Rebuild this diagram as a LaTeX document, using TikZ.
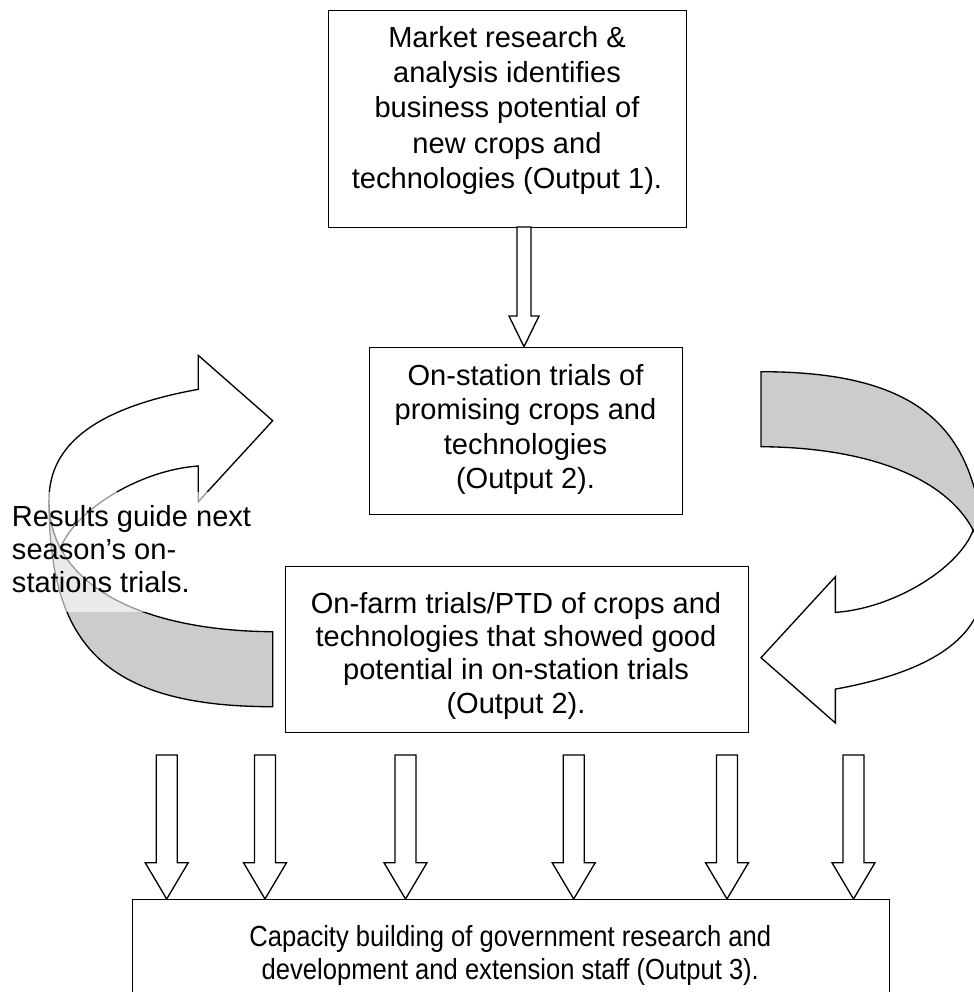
\documentclass[tikz,border=0pt]{standalone}
\usepackage{fontspec}
\setmainfont{Liberation Sans}
\newfontfamily\condfont[FakeStretch=0.88]{Liberation Sans}
\definecolor{shade}{RGB}{204,204,204}
\newcommand\DownArr[6]{% x, ytop, ytip, shaft half, head half, head length
  \draw[blk] (#1-#4,#2) -- (#1+#4,#2) -- (#1+#4,#3-#6) -- (#1+#5,#3-#6) -- (#1,#3)
     -- (#1-#5,#3-#6) -- (#1-#4,#3-#6) -- cycle;}
\begin{document}
\begin{tikzpicture}[x=0.75pt,y=-0.75pt,
  box/.style={draw, line width=1.1pt, fill=white, inner sep=0pt, anchor=north west},
  lbl/.style={inner sep=0pt, anchor=base},
  blk/.style={draw, line width=1pt, fill=white, line join=miter},
  curv/.style={draw, line width=1pt, line join=miter}]
\useasboundingbox (0,0) rectangle (974,992);
\clip (0,0) rectangle (974,992);

% boxes
\node[box, minimum width=268.5pt, minimum height=162.75pt] (b1) at (328,10) {};
\node[box, minimum width=234.75pt, minimum height=125.1pt] (b2) at (369,346.7) {};
\node[box, minimum width=347.25pt, minimum height=124.3pt] (b3) at (285,566) {};
\node[box, minimum width=567.5pt, minimum height=90pt] (b4) at (132,899) {};

% left curved arrow
\begin{scope}
  \path[curv, fill=shade] (272.7,631.7) .. controls (150,631) and (49,590) .. (49,500)
     .. controls (49,640) and (100,706.7) .. (272.7,706.7) -- cycle;
  \path[curv, fill=white] (198.3,466) -- (198.3,501.7) -- (272.7,420.7) -- (198.3,355.4)
     -- (198.3,389.3) .. controls (95,408) and (49,445) .. (49,500)
     .. controls (49,518) and (53.04,534.04) .. (60.49,548.19)
     .. controls (75,510) and (140,470) .. (198.3,466) -- cycle;
\end{scope}
% right curved arrow (same shape turned half round)
\begin{scope}[rotate around={180:(516.85,539.2)}]
  \path[curv, fill=shade] (272.7,631.7) .. controls (150,631) and (49,590) .. (49,500)
     .. controls (49,640) and (100,706.7) .. (272.7,706.7) -- cycle;
  \path[curv, fill=white] (198.3,466) -- (198.3,501.7) -- (272.7,420.7) -- (198.3,355.4)
     -- (198.3,389.3) .. controls (95,408) and (49,445) .. (49,500)
     .. controls (49,518) and (53.04,534.04) .. (60.49,548.19)
     .. controls (75,510) and (140,470) .. (198.3,466) -- cycle;
\end{scope}

% block arrows
\DownArr{524}{227}{346.7}{7}{15}{30.7}
\foreach \xx in {166.7,265,405.5,573.7,727,853.5}{\DownArr{\xx}{755}{899}{10.5}{21.5}{36.3}}

% text box of the loop note
\node[fill=white, fill opacity=0.6, inner sep=0pt, anchor=north west,
      minimum width=204.75pt, minimum height=90pt] (tb) at (0,492) {};

% texts
\node[lbl, font=\fontsize{21.8}{26.55}\selectfont] (t1) at (507,47)
  {\begin{tabular}[t]{@{}c@{}}Market research \&\\analysis identifies\\business potential of\\new crops and\\technologies (Output 1).\end{tabular}};
\node[lbl, font=\fontsize{21.8}{25.9}\selectfont] (t2) at (525.5,385)
  {\begin{tabular}[t]{@{}c@{}}On-station trials of\\promising crops and\\technologies\\(Output 2).\end{tabular}};
\node[lbl, font=\fontsize{21.8}{25.1}\selectfont] (t3) at (516,613)
  {\begin{tabular}[t]{@{}c@{}}On-farm trials/PTD of crops and\\technologies that showed good\\potential in on-station trials\\(Output 2).\end{tabular}};
\node[lbl, anchor=base west, font=\fontsize{21.8}{24.75}\selectfont] (tr) at (11.7,526.7)
  {\begin{tabular}[t]{@{}l@{}}Results guide next\\season’s on-\\stations trials.\end{tabular}};
\node[lbl, font=\condfont\fontsize{21.8}{24.75}\selectfont] (t4) at (510.3,946)
  {\begin{tabular}[t]{@{}c@{}}Capacity building of government research and\\development and extension staff (Output 3).\end{tabular}};
\end{tikzpicture}
\end{document}
